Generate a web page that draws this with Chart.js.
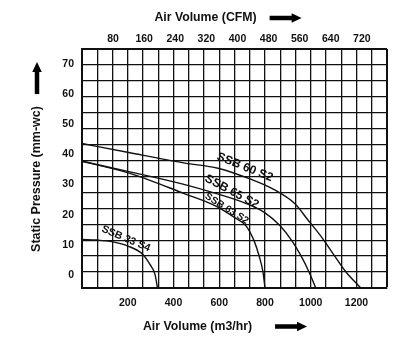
<!DOCTYPE html>
<html><head><meta charset="utf-8">
<script src="https://cdn.jsdelivr.net/npm/chart.js@4/dist/chart.umd.min.js"></script>
<style>html,body{margin:0;padding:0;background:#fff;}canvas{display:block;}</style>
</head><body>
<canvas id="c" width="415" height="352"></canvas>
<script>
// ---- text ----
const xTitle = 'Air Volume (m3/hr)';
const x2Title = 'Air Volume (CFM)';
const yTitle = 'Static Pressure (mm-wc)';
// ---- tick labels ----
const flowTickLabels = [200, 400, 600, 800, 1000, 1200];       // m3/hr
const cfmTickLabels = [80, 160, 240, 320, 400, 480, 560, 640, 720];
const pressureTickLabels = [0, 10, 20, 30, 40, 50, 60, 70];
// ---- series ----
const seriesNames = ['SSB 60 S2', 'SSB 65 S2', 'SSB 63 S2', 'SSB 33 S4'];
const ssb60Flow     = [0, 210, 450, 594, 743, 830, 931, 987, 1049, 1101, 1153, 1219];
const ssb60Pressure = [43.6, 40.5, 37.1, 35.4, 31.6, 28.7, 23.6, 18.3, 12.4, 6.7, 1.1, -4.3];
const ssb65Flow     = [0, 210, 437, 573, 721, 800, 865, 917, 957, 992, 1022];
const ssb65Pressure = [37.7, 34.2, 30.2, 27.3, 23.6, 20.6, 16.4, 11.4, 6.4, 1.1, -4.3];
const ssb63Flow     = [0, 210, 450, 581, 668, 717, 752, 774, 791, 800];
const ssb63Pressure = [37.7, 33.7, 26.9, 23.0, 19.0, 16.3, 11.4, 6.4, 1.1, -4.3];
const ssb33Flow     = [0, 65, 135, 201, 266, 297, 319, 330];
const ssb33Pressure = [11.8, 11.6, 11.0, 9.6, 6.8, 3.5, 0.2, -4.3];

// ---- scale geometry (grid of 20 x 15 cells) ----
const X_MAX = 4000 / 3;          // 20 columns of 200/3 m3/hr
const CFM_PER_M3H = 1 / 1.699;
const Y_MIN = -4.3, Y_MAX = 74.9; // 15 rows
const INK = '#111';
const FONT = "'Liberation Sans', Arial, sans-serif";

const pts = (xs, ys) => xs.map((x, i) => ({x, y: ys[i]}));
const seriesData = [pts(ssb60Flow, ssb60Pressure), pts(ssb65Flow, ssb65Pressure),
                    pts(ssb63Flow, ssb63Pressure), pts(ssb33Flow, ssb33Pressure)];

function arrow(ctx, x, y, len, dir) {
  // dir: 'right' or 'up'; (x,y) = tail centre
  const t = 4.5, hw = 9.5, hl = 10;
  ctx.save();
  ctx.translate(x, y);
  if (dir === 'up') ctx.rotate(-Math.PI / 2);
  ctx.fillStyle = '#000';
  ctx.fillRect(0, -t / 2, len - hl + 1, t);
  ctx.beginPath();
  ctx.moveTo(len - hl, -hw / 2);
  ctx.lineTo(len, 0);
  ctx.lineTo(len - hl, hw / 2);
  ctx.closePath();
  ctx.fill();
  ctx.restore();
}

const titlesPlugin = {
  id: 'titles',
  afterDraw(chart) {
    const {ctx, chartArea: a} = chart;
    const cx = (a.left + a.right) / 2, cy = (a.top + a.bottom) / 2;
    ctx.save();
    ctx.fillStyle = INK;
    ctx.font = 'bold 12.3px ' + FONT;
    ctx.textBaseline = 'middle';
    ctx.textAlign = 'center';
    // top title
    let w = ctx.measureText(x2Title).width;
    let tx = cx - 29, ty = a.top - 31;
    ctx.fillText(x2Title, tx, ty);
    arrow(ctx, tx + w / 2 + 13, ty, 32, 'right');
    // bottom title
    w = ctx.measureText(xTitle).width;
    tx = cx - 37; ty = a.bottom + 38.5;
    ctx.fillText(xTitle, tx, ty);
    arrow(ctx, tx + w / 2 + 23, ty, 32, 'right');
    // y title
    ctx.font = 'bold 12.5px ' + FONT;
    w = ctx.measureText(yTitle).width;
    tx = a.left - 45; ty = cy + 10.5;
    ctx.save();
    ctx.translate(tx, ty);
    ctx.rotate(-Math.PI / 2);
    ctx.fillText(yTitle, 0, 0);
    ctx.restore();
    arrow(ctx, tx, ty - w / 2 - 12, 32, 'up');
    ctx.restore();
  }
};

const curveLabels = {
  id: 'curveLabels',
  afterDatasetsDraw(chart, args, opts) {
    const {ctx} = chart;
    const xs = chart.scales.x, ys = chart.scales.y;
    ctx.save();
    ctx.fillStyle = INK;
    ctx.textAlign = 'center';
    ctx.textBaseline = 'middle';
    opts.items.forEach(it => {
      ctx.save();
      ctx.translate(xs.getPixelForValue(it.at[0]), ys.getPixelForValue(it.at[1]));
      ctx.rotate(it.angle * Math.PI / 180);
      ctx.font = 'bold ' + it.size + 'px ' + FONT;
      ctx.fillText(seriesNames[it.series], 0, 0);
      ctx.restore();
    });
    ctx.restore();
  }
};

const tickFont = {family: FONT, size: 10.5, weight: 'bold'};

new Chart(document.getElementById('c'), {
  type: 'line',
  data: {
    datasets: seriesData.map((d, i) => ({
      label: seriesNames[i], data: d, xAxisID: 'x', yAxisID: 'y',
      borderColor: INK, borderWidth: 1.4, pointRadius: 0, fill: false,
      cubicInterpolationMode: 'monotone'
    }))
  },
  options: {
    responsive: false, animation: false, devicePixelRatio: 1,
    layout: {padding: {left: 0, right: 28, top: 0, bottom: 0}},
    plugins: {
      legend: {display: false}, tooltip: {enabled: false},
      curveLabels: {items: [
        {series: 0, at: [712, 35.7], angle: 22, size: 12},
        {series: 1, at: [655, 27.6], angle: 28, size: 12},
        {series: 2, at: [633, 22.0], angle: 32, size: 10},
        {series: 3, at: [192, 12.0], angle: 23, size: 10.5}
      ]}
    },
    scales: {
      x: {
        type: 'linear', position: 'bottom', min: 0, max: X_MAX,
        afterBuildTicks: s => { s.ticks = Array.from({length: 21}, (_, i) => ({value: i * X_MAX / 20})); },
        afterFit: s => { s.height = 64; },
        grid: {color: INK, lineWidth: c => (c.index === 20 ? 2 : 1.3), drawTicks: false},
        border: {display: true, color: INK, width: 2},
        ticks: {
          autoSkip: false, maxRotation: 0, padding: 9, color: INK, font: tickFont,
          callback: v => { const r = Math.round(v); return (Math.abs(v - r) < 0.01 && flowTickLabels.includes(r)) ? String(r) : ''; }
        }
      },
      x2: {
        type: 'linear', position: 'top', min: 0, max: X_MAX * CFM_PER_M3H,
        afterBuildTicks: s => { s.ticks = cfmTickLabels.map(v => ({value: v})); },
        afterFit: s => { s.height = 49; },
        grid: {display: false, drawTicks: false},
        border: {display: false},
        ticks: {autoSkip: false, maxRotation: 0, padding: 4, color: INK, font: tickFont}
      },
      y: {
        type: 'linear', position: 'left', min: Y_MIN, max: Y_MAX,
        afterBuildTicks: s => { s.ticks = pressureTickLabels.map(v => ({value: v})); },
        afterFit: s => { s.width = 82; },
        grid: {display: false, drawTicks: false},
        border: {display: true, color: INK, width: 2},
        ticks: {autoSkip: false, padding: 8, color: INK, font: tickFont}
      },
      yGrid: {
        type: 'linear', position: 'left', min: Y_MIN, max: Y_MAX,
        afterBuildTicks: s => { s.ticks = Array.from({length: 16}, (_, i) => ({value: Y_MIN + i * (Y_MAX - Y_MIN) / 15})); },
        afterFit: s => { s.width = 0; },
        grid: {color: INK, lineWidth: c => (c.index === 15 ? 2 : 1.3), drawTicks: false},
        border: {display: false},
        ticks: {display: false}
      }
    }
  },
  plugins: [titlesPlugin, curveLabels]
});
</script>
</body></html>
